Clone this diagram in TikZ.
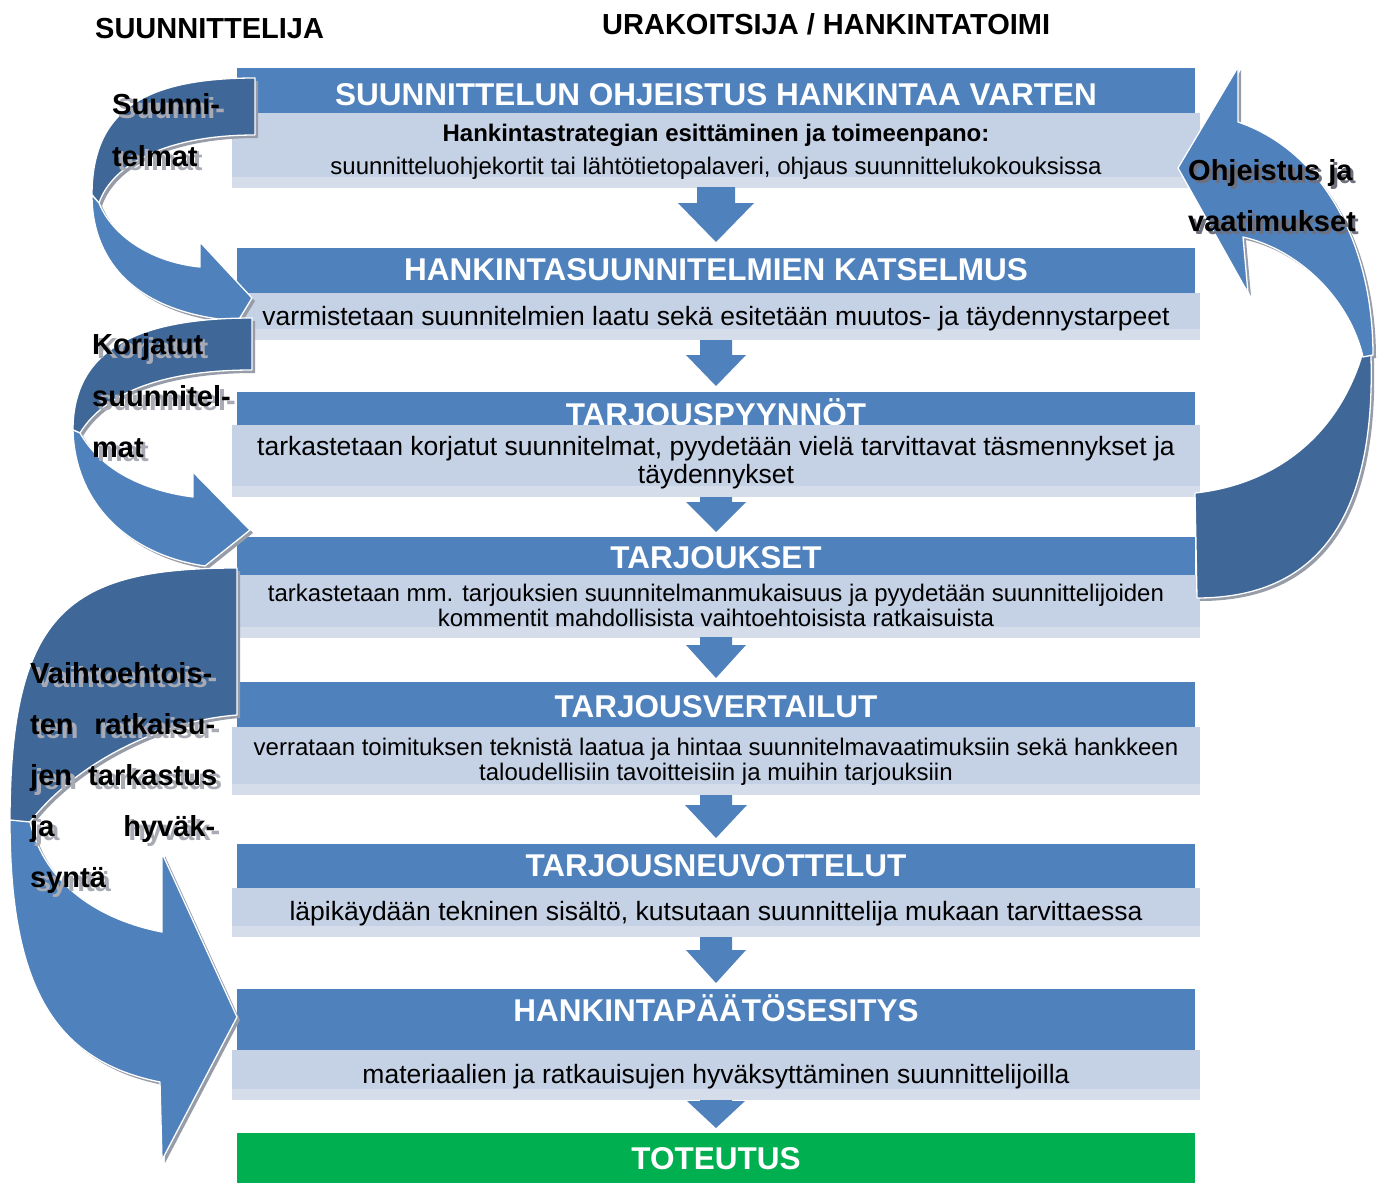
\documentclass[tikz,border=0pt]{standalone}
\usepackage{fontspec}
\setmainfont{Liberation Sans}
\definecolor{hdrc}{RGB}{79,129,189}
\definecolor{darkc}{RGB}{63,103,152}
\definecolor{litec}{RGB}{197,209,228}
\definecolor{lite2c}{RGB}{213,220,234}
\definecolor{grnc}{RGB}{0,176,80}
\definecolor{shadc}{RGB}{150,156,168}
\definecolor{txtshc}{RGB}{168,170,180}
\definecolor{txtshd}{RGB}{110,112,125}
\newcommand\shd[1]{\makebox[0pt][l]{\hspace*{5pt}\raisebox{-4pt}{\textcolor{txtshc}{#1}}}#1}
\newcommand\shdr[1]{\makebox[0pt][l]{\hspace*{3pt}\raisebox{-3pt}{\textcolor{txtshd}{#1}}}#1}
\newcommand\darr[5]{\fill[hdrc] ({716-#5},#1) -- ({716+#5},#1) -- ({716+#5},#2) -- ({716+#4},#2) -- (716,#3) -- ({716-#4},#2) -- ({716-#5},#2) -- cycle;}
\newcommand\arrAdark[1]{\fill[#1] (255,78) .. controls (145,78) and (92,110) .. (92,195) -- (99,203) .. controls (112,165) and (165,135) .. (255,135) -- cycle;}
\newcommand\arrAlite[1]{\fill[#1] (92,195) .. controls (92,265) and (140,314) .. (238,321) -- (252,298) -- (200,242) -- (200,267) .. controls (150,262) and (112,235) .. (99,203) -- cycle;}
\newcommand\arrBdark[1]{\fill[#1] (252,318) .. controls (140,318) and (73,348) .. (73,430) -- (80,433) .. controls (105,392) and (165,370) .. (252,370) -- cycle;}
\newcommand\arrBlite[1]{\fill[#1] (73,430) .. controls (75,505) and (130,555) .. (205,566) -- (250,530) -- (193,472) -- (193,497) .. controls (140,490) and (100,468) .. (80,433) -- cycle;}
\newcommand\arrCdark[1]{\fill[#1] (237,568) .. controls (70,568) and (10,610) .. (10,822) -- (30,822) .. controls (70,770) and (150,722) .. (237,715) -- cycle;}
\newcommand\arrClite[1]{\fill[#1] (10,820) .. controls (10,980) and (50,1060) .. (160,1082) -- (162,1160) -- (237,1017) -- (162,853) -- (162,932) .. controls (100,920) and (45,885) .. (30,822) -- cycle;}
\newcommand\arrDdark[1]{\fill[#1] (1370,335) .. controls (1380,500) and (1330,598) .. (1197,598) -- (1195,493) .. controls (1270,485) and (1340,440) .. (1365,345) -- cycle;}
\newcommand\arrDlite[1]{\fill[#1] (1178,168) -- (1238,67) -- (1238,122) .. controls (1320,150) and (1373,240) .. (1373,355) -- (1363,357) .. controls (1350,300) and (1300,250) .. (1243,237) -- (1248,293) -- cycle;}
\begin{document}
\begin{tikzpicture}[x=1pt,y=-1pt,
  hbar/.style={fill=hdrc, draw=none, minimum width=958pt, inner sep=0pt, anchor=north},
  lbox/.style={fill=litec, draw=none, minimum width=968pt, inner sep=0pt, anchor=north,
     path picture={\fill[lite2c] ([yshift=11pt]path picture bounding box.south west) rectangle (path picture bounding box.south east);}},
  gbar/.style={fill=grnc, draw=none, minimum width=958pt, inner sep=0pt, anchor=north},
  htxt/.style={text=white, font=\fontsize{31.5}{33}\selectfont\bfseries, inner sep=0pt, text height=22.6pt, text depth=0pt},
  btxt/.style={text=black, font=\fontsize{26.5}{28}\selectfont, inner sep=0pt, text height=17pt, text depth=0pt},
  stxt/.style={text=black, font=\fontsize{24}{26}\selectfont, inner sep=0pt, text height=15.4pt, text depth=0pt},
  sbtxt/.style={text=black, font=\fontsize{24}{26}\selectfont\bfseries, inner sep=0pt, text height=16pt, text depth=0pt},
  toptxt/.style={text=black, font=\fontsize{29}{31}\selectfont\bfseries, inner sep=0pt, anchor=west, text height=20.8pt, text depth=0pt},
  sidetxt/.style={text=black, font=\fontsize{29}{31}\selectfont\bfseries, inner sep=0pt, anchor=west, text height=20pt, text depth=0pt},
  aedge/.style={draw=white, line width=1.3pt, line join=round}]
\useasboundingbox (0,0) rectangle (1379,1183);
\fill[white] (0,0) rectangle (1379,1183);

% top headings
\node[toptxt] (hs) at (95,28) {SUUNNITTELIJA};
\node[toptxt] (hu) at (602,24) {URAKOITSIJA / HANKINTATOIMI};

% bar 1
\node[hbar, minimum height=46pt] (h1) at (716,68) {};
\node[htxt] (t1) at (716,94) {SUUNNITTELUN OHJEISTUS HANKINTAA VARTEN};
\node[lbox, minimum height=75pt] (l1) at (716,113) {};
\node[sbtxt] (b1a) at (716,133) {Hankintastrategian esittäminen ja toimeenpano:};
\node[stxt] (b1b) at (716,167) {suunnitteluohjekortit tai lähtötietopalaveri, ohjaus suunnittelukokouksissa};

% bar 2
\node[hbar, minimum height=46pt] (h2) at (716,248) {};
\node[htxt] (t2) at (716,269) {HANKINTASUUNNITELMIEN KATSELMUS};
\node[lbox, minimum height=47pt] (l2) at (716,293) {};
\node[btxt] (b2) at (716,317) {varmistetaan suunnitelmien laatu sekä esitetään muutos- ja täydennystarpeet};

% bar 3
\node[hbar, minimum height=34pt] (h3) at (716,392) {};
\node[htxt] (t3) at (716,414) {TARJOUSPYYNNÖT};
\node[lbox, minimum height=72pt] (l3) at (716,425) {};
\node[btxt] (b3a) at (716,447) {tarkastetaan korjatut suunnitelmat, pyydetään vielä tarvittavat täsmennykset ja};
\node[btxt] (b3b) at (716,475) {täydennykset};

% bar 4
\node[hbar, minimum height=38pt] (h4) at (716,537) {};
\node[htxt] (t4) at (716,557) {TARJOUKSET};
\node[lbox, minimum height=63pt] (l4) at (716,575) {};
\node[stxt] (b4a) at (716,594) {tarkastetaan mm. tarjouksien suunnitelmanmukaisuus ja pyydetään suunnittelijoiden};
\node[stxt] (b4b) at (716,619) {kommentit mahdollisista vaihtoehtoisista ratkaisuista};

% bar 5
\node[hbar, minimum height=46pt] (h5) at (716,682) {};
\node[htxt] (t5) at (716,706) {TARJOUSVERTAILUT};
\node[lbox, minimum height=68pt] (l5) at (716,727) {};
\node[stxt] (b5a) at (716,748) {verrataan toimituksen teknistä laatua ja hintaa suunnitelmavaatimuksiin sekä hankkeen};
\node[stxt] (b5b) at (716,773) {taloudellisiin tavoitteisiin ja muihin tarjouksiin};

% bar 6
\node[hbar, minimum height=45pt] (h6) at (716,844) {};
\node[htxt] (t6) at (716,865) {TARJOUSNEUVOTTELUT};
\node[lbox, minimum height=49pt] (l6) at (716,888) {};
\node[btxt] (b6) at (716,912) {läpikäydään tekninen sisältö, kutsutaan suunnittelija mukaan tarvittaessa};

% bar 7
\node[hbar, minimum height=62pt] (h7) at (716,989) {};
\node[htxt] (t7) at (716,1010) {HANKINTAPÄÄTÖSESITYS};
\node[lbox, minimum height=50pt] (l7) at (716,1050) {};
\node[btxt] (b7) at (716,1075) {materiaalien ja ratkauisujen hyväksyttäminen suunnittelijoilla};

% green
\node[gbar, minimum height=50pt] (g) at (716,1133) {};
\node[htxt] (tg) at (716,1158) {TOTEUTUS};

% down arrows
\darr{187}{203}{242}{38}{19}
\darr{340}{355}{386}{30}{16}
\darr{497}{502}{532}{30}{16}
\darr{637}{645}{678}{30}{16}
\darr{795}{805}{838}{31}{16}
\darr{937}{950}{983}{30}{16}
\darr{1100}{1101}{1128}{29}{16}

% curved arrows: shadows
\begin{scope}[shift={(3,3)}]
\arrAdark{shadc}\arrAlite{shadc}
\arrBdark{shadc}\arrBlite{shadc}
\arrCdark{shadc}\arrClite{shadc}
\arrDdark{shadc}\arrDlite{shadc}
\end{scope}
\arrAdark{darkc,aedge}\arrAlite{hdrc,aedge}
\arrBdark{darkc,aedge}\arrBlite{hdrc,aedge}
\arrCdark{darkc,aedge}\arrClite{hdrc,aedge}
\arrDdark{darkc,aedge}\arrDlite{hdrc,aedge}

% side labels
\node[sidetxt] (sa1) at (112,104) {\shd{Suunni-}};
\node[sidetxt] (sa2) at (112,156) {\shd{telmat}};
\node[sidetxt] (sb1) at (92,344) {\shd{Korjatut}};
\node[sidetxt] (sb2) at (92,396) {\shd{suunnitel-}};
\node[sidetxt] (sb3) at (92,447) {\shd{mat}};
\node[sidetxt] (sc1) at (30,673) {\shd{Vaihtoehtois-}};
\node[sidetxt] (sc2) at (30,724) {\shd{\makebox[185pt][s]{ten\hfill ratkaisu-}}};
\node[sidetxt] (sc3) at (30,775) {\shd{\makebox[187pt][s]{jen\hfill tarkastus}}};
\node[sidetxt] (sc4) at (30,826) {\shd{\makebox[185pt][s]{ja\hfill hyväk-}}};
\node[sidetxt] (sc5) at (30,877) {\shd{syntä}};
\node[sidetxt] (sd1) at (1188,170) {\shdr{Ohjeistus ja}};
\node[sidetxt] (sd2) at (1188,221) {\shdr{vaatimukset}};
\end{tikzpicture}
\end{document}
